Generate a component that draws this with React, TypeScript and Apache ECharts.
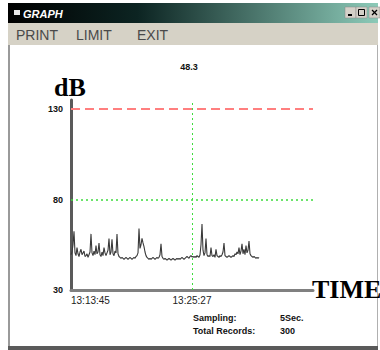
import React, { useEffect, useRef } from "react";
import * as echarts from "echarts";

const yTicks = [30, 80, 130];
const xTickLabels = ["13:13:45", "13:25:27"];
const cursorIndex = 121;
const limitValue = 130;
const guideValue = 80;
const samplingText = "5Sec.";
const totalRecords = "300";
const menuItems = ["PRINT", "LIMIT", "EXIT"];

const levels = [
  49.5, 51.0, 55.0, 62.5, 50.5, 49.0, 53.5, 50.0, 48.5, 51.0,
  52.5, 49.5, 50.5, 51.5, 48.5, 49.0, 50.0, 48.0, 49.5, 51.0,
  61.0, 50.5, 49.0, 51.5, 49.5, 54.5, 50.0, 51.0, 56.0, 49.5,
  48.5, 51.0, 49.0, 53.5, 50.5, 49.0, 50.5, 52.0, 58.5, 49.5,
  51.0, 58.0, 50.0, 49.0, 51.5, 50.5, 61.0, 50.0, 48.5, 48.0,
  47.5, 48.0, 47.5, 47.0, 47.5, 48.0, 47.5, 47.0, 47.5, 48.0,
  47.5, 47.0, 47.5, 48.0, 47.5, 48.5, 49.0, 50.5, 64.0, 53.0,
  55.0, 58.5, 56.0, 54.0, 51.0, 49.0, 48.0, 47.5, 47.0, 47.5,
  47.0, 47.5, 48.0, 47.5, 47.0, 47.5, 48.0, 47.5, 48.0, 49.5,
  55.5, 48.5, 47.5, 47.0, 47.5, 47.0, 46.5, 47.0, 47.5, 47.0,
  46.5, 47.0, 47.5, 47.0, 46.5, 47.0, 47.5, 47.0, 47.5, 47.0,
  47.5, 48.0, 47.5, 47.0, 47.5, 48.0, 48.5, 48.0, 47.5, 48.5,
  49.0, 48.3, 48.5, 48.0, 48.5, 48.0, 49.0, 48.5, 48.0, 49.5,
  55.0, 66.5, 52.0, 49.0, 50.5, 58.5, 49.5, 48.5, 49.0, 48.5,
  53.5, 49.0, 48.5, 49.5, 48.0, 52.5, 49.0, 48.5, 48.0, 49.0,
  48.5, 49.5, 51.0, 56.0, 49.0, 48.5, 48.0, 48.5, 49.0, 48.5,
  48.0, 48.5, 49.0, 48.5, 50.0, 49.5, 51.0, 50.0, 53.5, 49.5,
  51.5, 55.5, 50.0, 52.5, 49.5, 54.5, 50.5, 52.0, 57.0, 50.0,
  49.0, 48.5, 48.0, 48.5, 48.0, 47.5, 48.0, 47.5, 48.0,
];

export default function App() {
  const ref = useRef<HTMLDivElement>(null);
  useEffect(() => {
    if (!ref.current) return;
    const chart = echarts.init(ref.current, null, { renderer: "svg" });
    const sans = "Liberation Sans";
    const serif = "Liberation Serif";
    const menuX = [16, 76, 137];
    chart.setOption({
      animation: false,
      backgroundColor: "#ffffff",
      grid: { left: 71, top: 100, width: 242, height: 190, containLabel: false },
      xAxis: {
        type: "value",
        min: 0,
        max: 242,
        interval: 121,
        axisLine: { show: true, onZero: false, lineStyle: { color: "#808080", width: 3 } },
        axisTick: { show: false },
        splitLine: { show: false },
        axisLabel: {
          show: true,
          margin: 5,
          fontSize: 10,
          fontFamily: sans,
          color: "#222",
          showMaxLabel: false,
          alignMinLabel: "left",
          formatter: (v: number) =>
            v === 0 ? xTickLabels[0] : v === cursorIndex ? xTickLabels[1] : "",
        },
      },
      yAxis: {
        type: "value",
        min: 30,
        max: 135,
        interval: 50,
        axisLine: { show: true, lineStyle: { color: "#5a5a5a", width: 3 } },
        axisTick: { show: false },
        splitLine: { show: false },
        axisLabel: {
          show: true,
          margin: 8,
          fontSize: 9,
          fontWeight: "bold",
          fontFamily: sans,
          color: "#111",
          showMaxLabel: false,
          formatter: (v: number) => (yTicks.includes(v) ? String(v) : ""),
        },
      },
      series: [
        {
          type: "line",
          data: levels.map((v, i) => [i, v]),
          showSymbol: false,
          lineStyle: { color: "#3a3a3a", width: 1.1 },
          z: 3,
          markLine: {
            silent: true,
            symbol: "none",
            label: { show: false },
            data: [
              { yAxis: limitValue, lineStyle: { color: "#ff7f7f", type: [9, 5], width: 2 } },
              { yAxis: guideValue, lineStyle: { color: "#3ddc3d", type: [2, 3], width: 1.5 } },
              { xAxis: cursorIndex, lineStyle: { color: "#3ddc3d", type: [2, 3], width: 1 } },
            ],
          },
        },
      ],
      graphic: [
        { type: "rect", shape: { x: 8, y: 3, width: 370, height: 347 }, style: { fill: "#ffffff" }, z: -10 },
        {
          type: "rect",
          shape: { x: 8, y: 3, width: 370, height: 20 },
          style: {
            fill: new echarts.graphic.LinearGradient(0, 0, 1, 0, [
              { offset: 0, color: "#000000" },
              { offset: 0.35, color: "#0c2422" },
              { offset: 1, color: "#8ccab8" },
            ]),
          },
        },
        { type: "rect", shape: { x: 14, y: 10, width: 6, height: 5 }, style: { fill: "#e8e8e8" } },
        {
          type: "text",
          x: 23,
          y: 14,
          style: { text: "GRAPH", fill: "#ffffff", font: `italic bold 11px ${sans}`, verticalAlign: "middle" },
        },
        { type: "rect", shape: { x: 345, y: 7, width: 11, height: 11 }, style: { fill: "#d4d0c8", stroke: "#8a8a8a", lineWidth: 0.5 } },
        { type: "rect", shape: { x: 356, y: 7, width: 11, height: 11 }, style: { fill: "#d4d0c8", stroke: "#8a8a8a", lineWidth: 0.5 } },
        { type: "rect", shape: { x: 369, y: 7, width: 11, height: 11 }, style: { fill: "#d4d0c8", stroke: "#8a8a8a", lineWidth: 0.5 } },
        { type: "rect", shape: { x: 348, y: 14, width: 4, height: 2 }, style: { fill: "#000" } },
        { type: "rect", shape: { x: 358.5, y: 9.5, width: 6, height: 6 }, style: { fill: "none", stroke: "#000", lineWidth: 1 } },
        { type: "line", shape: { x1: 372, y1: 10, x2: 377, y2: 15 }, style: { stroke: "#000", lineWidth: 1.2 } },
        { type: "line", shape: { x1: 377, y1: 10, x2: 372, y2: 15 }, style: { stroke: "#000", lineWidth: 1.2 } },
        { type: "rect", shape: { x: 8, y: 23, width: 370, height: 22 }, style: { fill: "#d6d2c6" } },
        ...menuItems.map((m, i) => ({
          type: "text",
          x: menuX[i],
          y: 35,
          style: { text: m, fill: "#4a4a4a", font: `14px ${sans}`, verticalAlign: "middle" },
        })),
        { type: "rect", shape: { x: 8, y: 45, width: 2, height: 302 }, style: { fill: "#9a9a9a" } },
        { type: "rect", shape: { x: 377, y: 45, width: 1, height: 302 }, style: { fill: "#b0b0b0" } },
        { type: "rect", shape: { x: 8, y: 346, width: 370, height: 4 }, style: { fill: "#5a5a5a" } },
        {
          type: "text",
          x: 54,
          y: 87,
          style: { text: "dB", fill: "#000", font: `bold 26px ${serif}`, verticalAlign: "middle" },
        },
        {
          type: "text",
          x: 312,
          y: 289,
          style: { text: "TIME", fill: "#000", font: `bold 26px ${serif}`, verticalAlign: "middle" },
        },
        {
          type: "text",
          x: 189,
          y: 67,
          style: {
            text: levels[cursorIndex].toFixed(1),
            fill: "#111",
            font: `bold 9px ${sans}`,
            align: "center",
            verticalAlign: "middle",
          },
        },
        {
          type: "text",
          x: 193,
          y: 318,
          style: { text: "Sampling:", fill: "#111", font: `bold 9px ${sans}`, verticalAlign: "middle" },
        },
        {
          type: "text",
          x: 280,
          y: 318,
          style: { text: samplingText, fill: "#111", font: `bold 9px ${sans}`, verticalAlign: "middle" },
        },
        {
          type: "text",
          x: 193,
          y: 331,
          style: { text: "Total Records:", fill: "#111", font: `bold 9px ${sans}`, verticalAlign: "middle" },
        },
        {
          type: "text",
          x: 280,
          y: 331,
          style: { text: totalRecords, fill: "#111", font: `bold 9px ${sans}`, verticalAlign: "middle" },
        },
      ],
    });
    return () => chart.dispose();
  }, []);
  return (
    <div
      ref={ref}
      style={{ position: "absolute", left: 0, top: 0, width: 380, height: 350 }}
    />
  );
}
